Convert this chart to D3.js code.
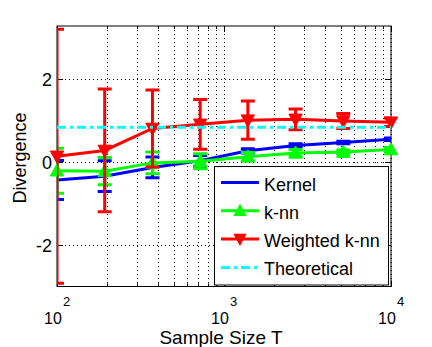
<!DOCTYPE html>
<html>
<head>
<meta charset="utf-8">
<script src="https://cdn.jsdelivr.net/npm/d3@7"></script>
<style>
body { margin: 0; background: #fff; }
svg { display: block; font-family: "Liberation Sans", Arial, sans-serif; }
</style>
</head>
<body>
<div id="chart"></div>
<script>
// values
var sampleSizes = [100, 193, 373, 720, 1389, 2683, 5179, 10000];
var kernelMean = [-0.43, -0.34, -0.13, 0.03, 0.27, 0.40, 0.47, 0.55];
var kernelErr  = [0.47, 0.37, 0.25, 0.13, 0.05, 0.04, 0.03, 0.03];
var knnMean = [-0.21, -0.22, -0.02, 0.02, 0.13, 0.22, 0.24, 0.30];
var knnErr  = [0.54, 0.33, 0.26, 0.18, 0.10, 0.08, 0.05, 0.05];
var wknnMean = [0.14, 0.28, 0.81, 0.91, 1.01, 1.03, 0.99, 0.96];
var wknnErr  = [3.06, 1.48, 0.93, 0.60, 0.46, 0.25, 0.18, 0.10];
var theoretical = 0.84;

var yTicks = [-2, 0, 2];
var xTicks = [100, 1000, 10000];
var xTickExp = ['2', '3', '4'];
var legendNames = ['Kernel', 'k-nn', 'Weighted k-nn', 'Theoretical'];

var width = 432, height = 347;
var plot = {left: 57, right: 391, top: 26, bottom: 286.5};

var svg = d3.select("#chart")
  .append("svg")
  .attr("width", width)
  .attr("height", height);

var x = d3.scaleLog()
  .domain([100, 10000])
  .range([plot.left, plot.right]);

var y = d3.scaleLinear()
  .domain([-3, 3.28])
  .range([plot.bottom, plot.top]);

svg.append("clipPath").attr("id", "clip")
  .append("rect")
  .attr("x", plot.left).attr("y", plot.top)
  .attr("width", plot.right - plot.left)
  .attr("height", plot.bottom - plot.top);

// dotted grid
var grid = svg.append("g")
  .attr("stroke", "#000")
  .attr("stroke-width", 1)
  .attr("stroke-dasharray", "1,3");

x.ticks().forEach(function(t) {
  grid.append("line")
    .attr("x1", Math.round(x(t)) + 0.5).attr("x2", Math.round(x(t)) + 0.5)
    .attr("y1", plot.top).attr("y2", plot.bottom);
});
yTicks.forEach(function(t) {
  grid.append("line")
    .attr("x1", plot.left).attr("x2", plot.right)
    .attr("y1", Math.round(y(t)) + 0.5).attr("y2", Math.round(y(t)) + 0.5);
});

// box + ticks
svg.append("rect")
  .attr("x", plot.left).attr("y", plot.top)
  .attr("width", plot.right - plot.left)
  .attr("height", plot.bottom - plot.top)
  .attr("fill", "none")
  .attr("stroke", "#000")
  .attr("stroke-width", 1);

var ticks = svg.append("g").attr("stroke", "#000").attr("stroke-width", 1);
x.ticks().forEach(function(t) {
  var len = xTicks.indexOf(t) >= 0 ? 6 : 3;
  var px = Math.round(x(t)) + 0.5;
  ticks.append("line").attr("x1", px).attr("x2", px).attr("y1", plot.bottom).attr("y2", plot.bottom - len);
  ticks.append("line").attr("x1", px).attr("x2", px).attr("y1", plot.top).attr("y2", plot.top + len);
});
yTicks.forEach(function(t) {
  var py = Math.round(y(t)) + 0.5;
  ticks.append("line").attr("x1", plot.left).attr("x2", plot.left + 6).attr("y1", py).attr("y2", py);
  ticks.append("line").attr("x1", plot.right).attr("x2", plot.right - 6).attr("y1", py).attr("y2", py);
});

// tick labels
svg.append("g").selectAll("text")
  .data(yTicks)
  .enter()
  .append("text")
  .attr("x", 52)
  .attr("y", function(d) { return y(d) + 7; })
  .attr("text-anchor", "end")
  .attr("font-size", 18)
  .text(function(d) { return d < 0 ? "-" + Math.abs(d) : d; });

var xl = svg.append("g").selectAll("g")
  .data(xTicks)
  .enter()
  .append("g")
  .attr("transform", function(d) { return "translate(" + x(d) + ",0)"; });
xl.append("text")
  .attr("x", -4).attr("y", 324)
  .attr("text-anchor", "middle")
  .attr("font-size", 16)
  .text("10");
xl.append("text")
  .attr("x", 6).attr("y", 306)
  .attr("font-size", 13)
  .text(function(d, i) { return xTickExp[i]; });

// axis titles
svg.append("text")
  .attr("x", 221).attr("y", 344)
  .attr("text-anchor", "middle")
  .attr("font-size", 19)
  .text("Sample Size T");

svg.append("text")
  .attr("transform", "translate(26,158)rotate(-90)")
  .attr("text-anchor", "middle")
  .attr("font-size", 18)
  .text("Divergence");

// series
function upTri(s) { return "M0," + (-s) + "L" + (s * 0.95) + "," + (s * 0.75) + "L" + (-s * 0.95) + "," + (s * 0.75) + "Z"; }
function downTri(s) { return "M0," + s + "L" + (s * 0.95) + "," + (-s * 0.75) + "L" + (-s * 0.95) + "," + (-s * 0.75) + "Z"; }

var line = d3.line()
  .x(function(d) { return x(d.n); })
  .y(function(d) { return y(d.v); });

function drawSeries(means, errs, color, marker) {
  var data = sampleSizes.map(function(n, i) { return {n: n, v: means[i], e: errs[i]}; });
  var g = svg.append("g");
  var clipped = g.append("g").attr("clip-path", "url(#clip)");
  var bars = clipped.selectAll("g.err")
    .data(data)
    .enter()
    .append("g")
    .attr("stroke", color)
    .attr("stroke-width", 3);
  bars.append("line")
    .attr("x1", function(d) { return x(d.n); })
    .attr("x2", function(d) { return x(d.n); })
    .attr("y1", function(d) { return y(d.v + d.e); })
    .attr("y2", function(d) { return y(d.v - d.e); });
  bars.append("line")
    .attr("x1", function(d) { return x(d.n) - 7; })
    .attr("x2", function(d) { return x(d.n) + 7; })
    .attr("y1", function(d) { return y(d.v + d.e); })
    .attr("y2", function(d) { return y(d.v + d.e); });
  bars.append("line")
    .attr("x1", function(d) { return x(d.n) - 7; })
    .attr("x2", function(d) { return x(d.n) + 7; })
    .attr("y1", function(d) { return y(d.v - d.e); })
    .attr("y2", function(d) { return y(d.v - d.e); });
  clipped.append("path")
    .datum(data)
    .attr("d", line)
    .attr("fill", "none")
    .attr("stroke", color)
    .attr("stroke-width", 3);
  if (marker) {
    g.selectAll("path.mk")
      .data(data)
      .enter()
      .append("path")
      .attr("class", "mk")
      .attr("transform", function(d) { return "translate(" + x(d.n) + "," + y(d.v) + ")"; })
      .attr("d", marker(7))
      .attr("fill", color)
      .attr("stroke", color)
      .attr("stroke-width", 1);
  }
}

drawSeries(kernelMean, kernelErr, "#0000ff", null);
drawSeries(knnMean, knnErr, "#00ff00", upTri);
drawSeries(wknnMean, wknnErr, "#ff0000", downTri);

svg.append("line")
  .attr("x1", plot.left).attr("x2", plot.right)
  .attr("y1", y(theoretical)).attr("y2", y(theoretical))
  .attr("stroke", "#00ffff")
  .attr("stroke-width", 3)
  .attr("stroke-dasharray", "9,4,3,4");

// legend
var leg = svg.append("g");
leg.append("rect")
  .attr("x", 214.5).attr("y", 166.5)
  .attr("width", 174).attr("height", 118.5)
  .attr("fill", "#fff")
  .attr("stroke", "#000")
  .attr("stroke-width", 1);

var legColors = ["#0000ff", "#00ff00", "#ff0000", "#00ffff"];
var legMarkers = [null, upTri, downTri, null];
legendNames.forEach(function(name, i) {
  var ry = 182.5 + i * 28.3;
  leg.append("line")
    .attr("x1", 221).attr("x2", 259)
    .attr("y1", ry).attr("y2", ry)
    .attr("stroke", legColors[i])
    .attr("stroke-width", 3)
    .attr("stroke-dasharray", i == 3 ? "9,4,3,4" : null);
  if (legMarkers[i]) {
    leg.append("path")
      .attr("transform", "translate(240," + ry + ")")
      .attr("d", legMarkers[i](7))
      .attr("fill", legColors[i]);
  }
  leg.append("text")
    .attr("x", 264).attr("y", ry + 8)
    .attr("font-size", 18)
    .text(name);
});
</script>
</body>
</html>
